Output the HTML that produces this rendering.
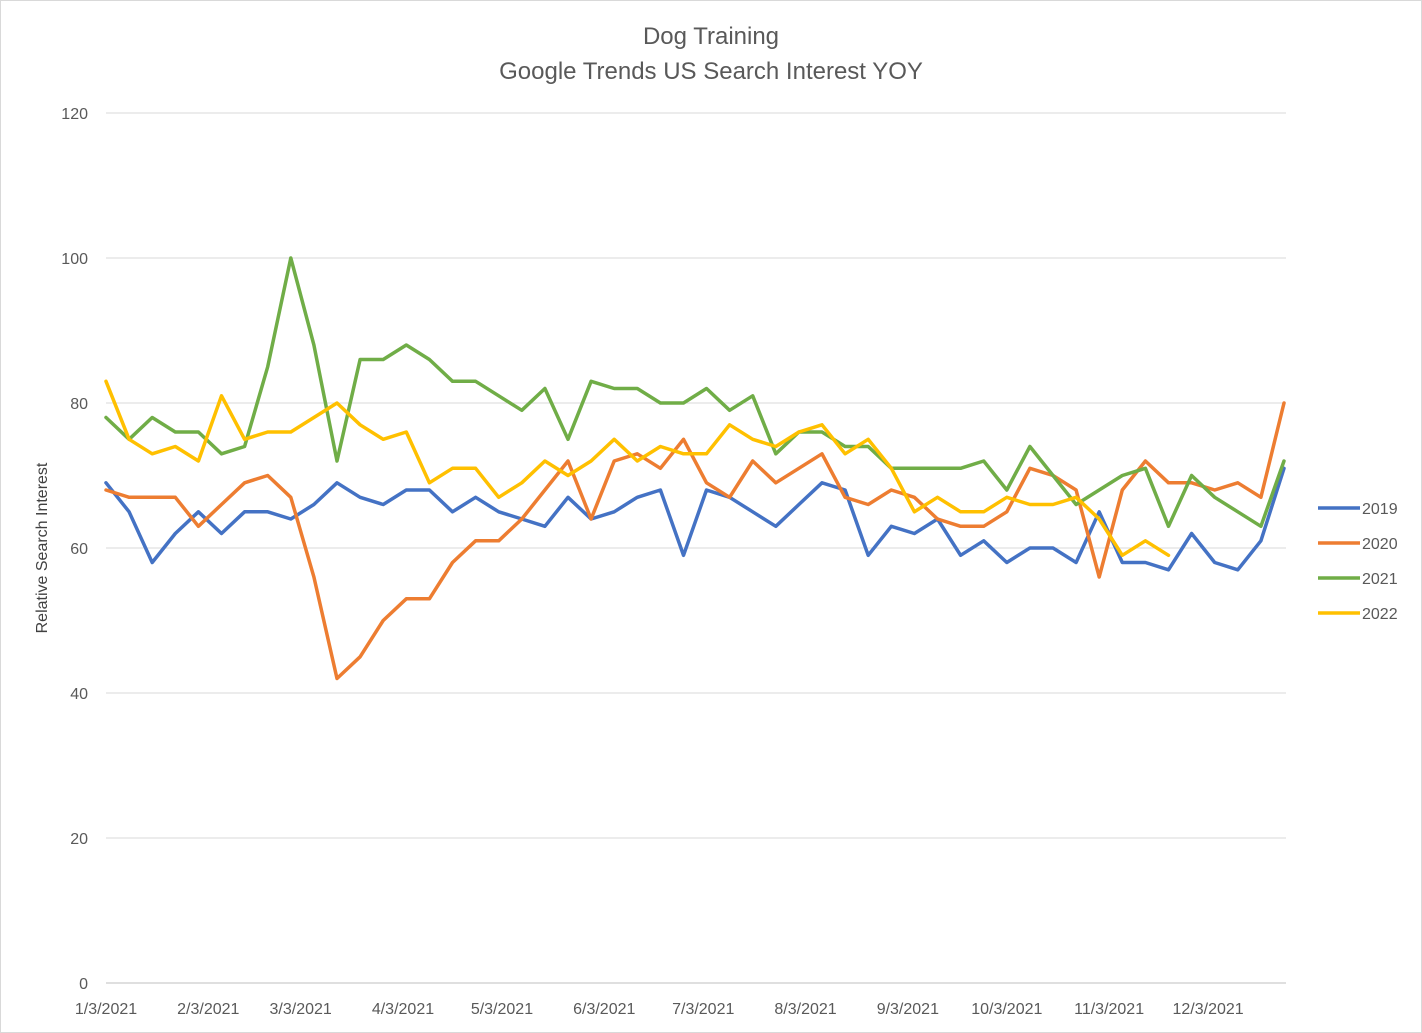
<!DOCTYPE html>
<html><head><meta charset="utf-8"><style>
html,body{margin:0;padding:0;background:#fff}
svg{display:block;font-family:"Liberation Sans",Arial,sans-serif}
</style></head><body>
<svg id="chart" width="1422" height="1033" viewBox="0 0 1422 1033">
<rect x="0.5" y="0.5" width="1421" height="1032" fill="#fff" stroke="#d9d9d9"/>
<text x="711" y="44" text-anchor="middle" font-size="24" fill="#595959">Dog Training</text>
<text x="711" y="79" text-anchor="middle" font-size="24" fill="#595959">Google Trends US Search Interest YOY</text>
<text transform="translate(47,548) rotate(-90)" text-anchor="middle" font-size="16" fill="#404040">Relative Search Interest</text>
<g id="grid"></g><g id="xt"></g><g id="series"></g><g id="legend"></g>
</svg>
<script>
const yTicks=[0,20,40,60,80,100,120];
const xLabels=["1/3/2021","2/3/2021","3/3/2021","4/3/2021","5/3/2021","6/3/2021","7/3/2021","8/3/2021","9/3/2021","10/3/2021","11/3/2021","12/3/2021"];
const xLabelDays=[0,31,59,90,120,151,181,212,243,273,304,334];
const seriesNames=["2019","2020","2021","2022"];
const colors=["#4472c4","#ed7d31","#70ad47","#ffc000"];
const s2019=[69,65,58,62,65,62,65,65,64,66,69,67,66,68,68,65,67,65,64,63,67,64,65,67,68,59,68,67,65,63,66,69,68,59,63,62,64,59,61,58,60,60,58,65,58,58,57,62,58,57,61,71];
const s2020=[68,67,67,67,63,66,69,70,67,56,42,45,50,53,53,58,61,61,64,68,72,64,72,73,71,75,69,67,72,69,71,73,67,66,68,67,64,63,63,65,71,70,68,56,68,72,69,69,68,69,67,80];
const s2021=[78,75,78,76,76,73,74,85,100,88,72,86,86,88,86,83,83,81,79,82,75,83,82,82,80,80,82,79,81,73,76,76,74,74,71,71,71,71,72,68,74,70,66,68,70,71,63,70,67,65,63,72];
const s2022=[83,75,73,74,72,81,75,76,76,78,80,77,75,76,69,71,71,67,69,72,70,72,75,72,74,73,73,77,75,74,76,77,73,75,71,65,67,65,65,67,66,66,67,64,59,61,59];
const NS="http://www.w3.org/2000/svg";
const x0=106,pxDay=(1284-106)/357;
function xDay(d){return x0+d*pxDay;}
function xWeek(i){return xDay(i*7);}
function y(v){return 983-v*(870/120);}
function mk(t,a,p){const e=document.createElementNS(NS,t);for(const k in a)e.setAttribute(k,a[k]);p.appendChild(e);return e;}
const grid=document.getElementById('grid');
yTicks.forEach(v=>{
  const l=mk('line',{x1:106,x2:1286,y1:y(v),y2:y(v),stroke:v===0?'#bfbfbf':'#d9d9d9','stroke-width':1},grid);
  
  
  const t=mk('text',{x:88,y:y(v)+6,'text-anchor':'end','font-size':16,fill:'#595959'},grid);
  t.textContent=v;
  
  
});
const xt=document.getElementById('xt');
xLabels.forEach((lab,i)=>{
  const t=mk('text',{x:xDay(xLabelDays[i]),y:1014,'text-anchor':'middle','font-size':16,fill:'#595959'},xt);
  t.textContent=lab;
  
  
});
const all=[s2019,s2020,s2021,s2022];
const sg=document.getElementById('series');
all.forEach((s,k)=>{
  const pts=s.map((v,i)=>xWeek(i).toFixed(1)+','+y(v).toFixed(1)).join(' ');
  const p=mk('polyline',{points:pts,fill:'none',stroke:colors[k],'stroke-width':3.5,'stroke-linejoin':'round','stroke-linecap':'round'},sg);
  
  
});
const lg=document.getElementById('legend');
seriesNames.forEach((n,k)=>{
  const yy=508+k*35;
  const g=mk('g',{},lg);
  
  
  mk('line',{x1:1318,x2:1360,y1:yy,y2:yy,stroke:colors[k],'stroke-width':3.5},g);
  const t=mk('text',{x:1362,y:yy+6,'font-size':16,fill:'#595959'},g);
  t.textContent=n;
});
</script>
</body></html>
